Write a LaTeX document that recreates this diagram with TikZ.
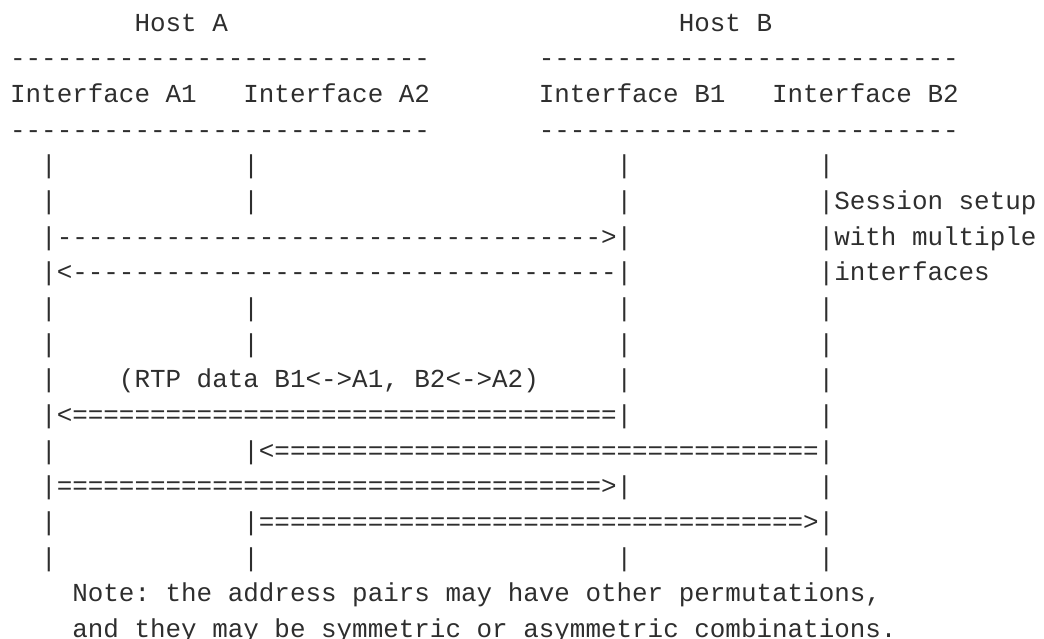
\documentclass[tikz,border=0pt]{standalone}
\usepackage{fontspec}
\setmonofont{Liberation Mono}
\usepackage{xcolor}
\definecolor{ink}{HTML}{2E2E2E}
\newcommand{\rep}[2]{\foreach \k in {1,...,#1}{#2}}
\newcommand{\lifelines}[2]{%
  \foreach \c in {#2} {
    \node[txt] (pipe-#1-\c) at (\c,#1) {|};
  }
}

\begin{document}
\begin{tikzpicture}[x=7.775pt,y=-17.825pt,
  txt/.style={anchor=base west,inner sep=0pt,outer sep=0pt,text=ink,
    font=\ttfamily\fontsize{12.96}{15}\selectfont}]
  \fill[white] (-0.65,0.122) rectangle (66.49,18.02);
  \useasboundingbox (-0.65,0.122) rectangle (66.49,18.02);
  \clip (-0.65,0.122) rectangle (66.49,18.02);

  % hosts and interfaces
  \node[txt] (hostA) at (8,1) {Host A};
  \node[txt] (hostB) at (43,1) {Host B};
  \node[txt] (ruleA1) at (0,2) {\rep{27}{-}};
  \node[txt] (ruleB1) at (34,2) {\rep{27}{-}};
  \node[txt] (ifA1) at (0,3) {Interface A1};
  \node[txt] (ifA2) at (15,3) {Interface A2};
  \node[txt] (ifB1) at (34,3) {Interface B1};
  \node[txt] (ifB2) at (49,3) {Interface B2};
  \node[txt] (ruleA2) at (0,4) {\rep{27}{-}};
  \node[txt] (ruleB2) at (34,4) {\rep{27}{-}};

  % session setup
  \lifelines{5}{2,15,39,52}
  \lifelines{6}{2,15,39,52}
  \node[txt] (note1) at (53,6) {Session setup};
  \lifelines{7}{2,39,52}
  \node[txt] (offer) at (3,7) {\rep{35}{-}>};
  \node[txt] (note2) at (53,7) {with multiple};
  \lifelines{8}{2,39,52}
  \node[txt] (answer) at (3,8) {<\rep{35}{-}};
  \node[txt] (note3) at (53,8) {interfaces};
  \lifelines{9}{2,15,39,52}
  \lifelines{10}{2,15,39,52}

  % media flows
  \lifelines{11}{2,39,52}
  \node[txt] (rtp) at (7,11) {(RTP data B1<->A1, B2<->A2)};
  \lifelines{12}{2,39,52}
  \node[txt] (flowB1) at (3,12) {<\rep{35}{=}};
  \lifelines{13}{2,15,52}
  \node[txt] (flowB2) at (16,13) {<\rep{35}{=}};
  \lifelines{14}{2,39,52}
  \node[txt] (flowA1) at (3,14) {\rep{35}{=}>};
  \lifelines{15}{2,15,52}
  \node[txt] (flowA2) at (16,15) {\rep{35}{=}>};
  \lifelines{16}{2,15,39,52}

  \node[txt] (remark1) at (4,17) {Note: the address pairs may have other permutations,};
  \node[txt] (remark2) at (4,18) {and they may be symmetric or asymmetric combinations.};
\end{tikzpicture}
\end{document}
